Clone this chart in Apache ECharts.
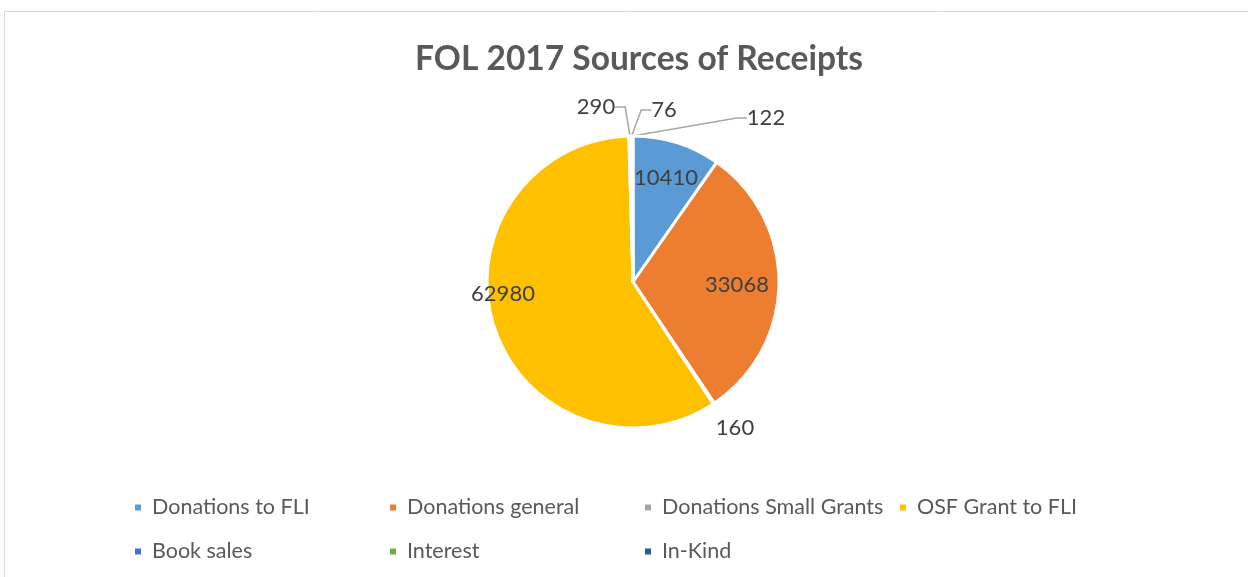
<!DOCTYPE html>
<html>
<head>
<meta charset="utf-8">
<script src="https://cdn.jsdelivr.net/npm/echarts@6/dist/echarts.min.js"></script>
<style>
html,body{margin:0;padding:0;background:#fff;}
#main{width:1248px;height:577px;}
</style>
</head>
<body>
<div id="main"></div>
<script>
var myChart = echarts.init(document.getElementById('main'));

var names = ['Donations to FLI', 'Donations general', 'Donations Small Grants', 'OSF Grant to FLI', 'Book sales', 'Interest', 'In-Kind'];
var values = [10410, 33068, 160, 62980, 290, 76, 122];
var colors = ['#5b9bd5', '#ed7d31', '#a5a5a5', '#ffc000', '#4472c4', '#70ad47', '#255e91'];

// where Excel put each value label
var labelSpots = [[666, 178], [737, 285], [735, 428], [503, 294], [596, 107], [664, 110], [766, 118]];
var outside = [false, false, true, false, true, true, true];

var pieData = names.map(function (n, i) {
    return {
        name: n,
        value: values[i],
        itemStyle: { color: colors[i] },
        label: { position: outside[i] ? 'outside' : 'inside' },
        labelLine: { show: outside[i] && i != 2 }
    };
});

var option = {
    animation: false,
    title: {
        text: 'FOL 2017 Sources of Receipts',
        left: 634,
        textAlign: 'center',
        top: 37,
        textStyle: { fontFamily: 'Lato', fontSize: 33.5, fontWeight: 'bold', color: '#595959' }
    },
    legend: {
        left: 128,
        top: 483,
        width: 1030,
        itemWidth: 8,
        itemHeight: 8,
        itemGap: 5,
        icon: 'rect',
        textStyle: { fontFamily: 'Lato', fontSize: 21.5, color: '#595959', width: 231, height: 39, lineHeight: 39, padding: [0, 0, 0, 5] },
        data: names
    },
    graphic: [{
        type: 'rect',
        shape: { x: 4.5, y: 11.5, width: 1260, height: 600 },
        style: { fill: 'none', stroke: '#d9d9d9', lineWidth: 1 },
        silent: true
    }],
    series: [{
        type: 'pie',
        center: [633, 282],
        radius: 146,
        startAngle: 90,
        clockwise: true,
        avoidLabelOverlap: false,
        itemStyle: { borderColor: '#fff', borderWidth: 3 },
        label: {
            formatter: '{c}',
            fontFamily: 'Lato',
            fontSize: 22,
            color: '#404040'
        },
        labelLine: {
            length: 10,
            length2: 10,
            lineStyle: { color: '#a6a6a6', width: 1.5 }
        },
        labelLayout: function (params) {
            var p = labelSpots[params.dataIndex];
            return { x: p[0], y: p[1], align: 'center', verticalAlign: 'middle' };
        },
        data: pieData
    }]
};

myChart.setOption(option);
</script>
</body>
</html>
